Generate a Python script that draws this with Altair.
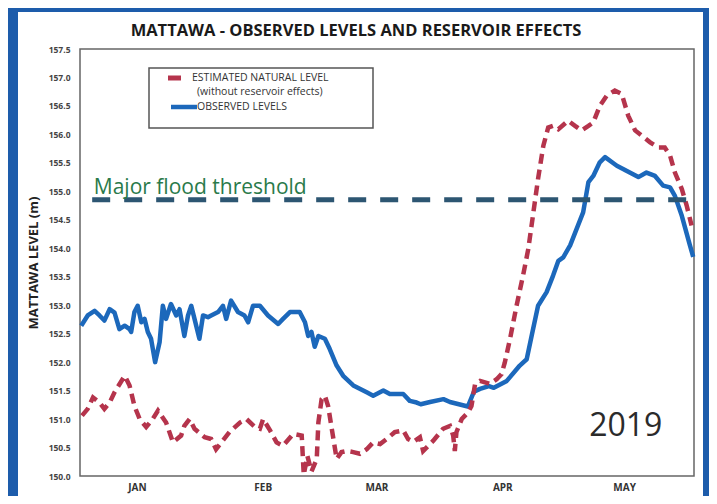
import altair as alt
import pandas as pd

# ---- data (x = days since 1 Jan 2019, y = level in m) ----
obs_day = [-13.7, -12.1, -10.4, -9.2, -8.0, -6.7, -5.5, -4.3, -3.0, -1.8, -1.4, -0.6, 0.2, 1.1, 1.9,
           2.7, 3.5, 4.5, 5.6, 6.4, 7.2, 8.4, 9.7, 10.5, 11.7, 12.6, 13.4, 14.2, 15.4, 16.3, 17.5,
           18.3, 20.0, 21.2, 22.0, 23.2, 24.9, 26.5, 27.4, 28.6, 30.3, 32.3, 34.8, 36.0, 37.7, 40.1,
           41.4, 42.2, 43.0, 43.8, 44.7, 46.3, 47.5, 49.2, 50.8, 53.3, 56.6, 58.2, 60.7, 62.3, 65.6,
           67.2, 68.9, 69.9, 72.2, 75.5, 77.1, 81.5, 83.0, 84.5, 86.7, 87.9, 91.1, 94.3, 96.0, 97.3,
           98.8, 100.9, 102.5, 103.8, 105.0, 106.7, 108.3, 109.9, 111.2, 112.4, 114.0, 115.3, 118.2,
           123.5, 125.5, 127.6, 129.6, 131.3, 132.5, 134.2, 136.2, 137.0]
obs_level = [152.64, 152.82, 152.90, 152.82, 152.73, 152.93, 152.87, 152.58, 152.64, 152.58, 152.53,
             152.88, 152.99, 152.70, 152.76, 152.53, 152.41, 152.00, 152.35, 152.99, 152.76, 153.02,
             152.82, 152.93, 152.46, 152.82, 152.99, 152.76, 152.41, 152.82, 152.79, 152.82, 152.88,
             152.99, 152.76, 153.08, 152.88, 152.82, 152.70, 152.99, 152.99, 152.82, 152.67, 152.76,
             152.88, 152.88, 152.70, 152.46, 152.53, 152.27, 152.46, 152.41, 152.23, 151.94, 151.76,
             151.59, 151.47, 151.41, 151.50, 151.44, 151.44, 151.32, 151.29, 151.26, 151.30, 151.35,
             151.30, 151.22, 151.48, 151.53, 151.58, 151.55, 151.67, 151.94, 152.05, 152.49, 152.99,
             153.23, 153.52, 153.78, 153.84, 154.05, 154.34, 154.63, 155.16, 155.27, 155.51, 155.60,
             155.45, 155.25, 155.33, 155.27, 155.10, 155.07, 154.92, 154.57, 154.05, 153.85]

nat_day = [-13.5, -12.1, -10.8, -9.2, -8.0, -6.7, -5.5, -3.0, -1.8, -0.6, 0.7, 2.3, 3.9, 5.2, 7.2,
           8.9, 10.9, 11.7, 13.0, 14.2, 16.7, 18.3, 19.5, 20.8, 22.8, 25.4, 27.0, 29.1, 30.3, 31.1,
           32.8, 34.4, 36.0, 38.5, 40.6, 41.1, 42.0, 43.0, 44.3, 44.7, 45.5, 46.3, 47.1, 48.0, 49.2,
           50.4, 51.7, 53.3, 54.9, 56.6, 58.2, 59.9, 61.5, 63.5, 65.6, 66.8, 68.1, 69.7, 70.5, 73.0,
           75.4, 77.1, 77.9, 78.3, 78.7, 80.0, 81.6, 82.4, 83.3, 84.5, 86.9, 88.6, 89.8, 90.6, 91.9,
           93.5, 95.1, 96.4, 97.2, 98.0, 98.8, 100.1, 101.3, 102.5, 103.8, 106.2, 107.9, 109.5, 111.2,
           112.4, 114.0, 115.7, 117.7, 119.4, 121.0, 122.7, 124.3, 126.4, 128.4, 130.0, 131.3, 132.5,
           134.2, 135.4, 136.6]
nat_level = [151.06, 151.18, 151.38, 151.29, 151.18, 151.29, 151.47, 151.76, 151.59, 151.23, 151.00,
             150.86, 151.00, 151.15, 150.94, 150.59, 150.71, 150.88, 151.00, 150.83, 150.68, 150.65,
             150.47, 150.59, 150.77, 150.94, 151.00, 150.86, 150.83, 151.00, 150.80, 150.59, 150.53,
             150.74, 150.71, 150.02, 150.35, 150.08, 150.30, 150.94, 151.35, 151.41, 151.23, 150.83,
             150.30, 150.42, 150.44, 150.42, 150.39, 150.47, 150.59, 150.56, 150.65, 150.77, 150.80,
             150.65, 150.60, 150.68, 150.44, 150.62, 150.83, 150.88, 150.71, 150.44, 150.77, 151.00,
             151.12, 151.23, 151.62, 151.67, 151.62, 151.70, 151.79, 151.99, 152.41, 152.99, 153.52,
             153.99, 154.40, 154.81, 155.22, 155.80, 156.12, 156.15, 156.09, 156.24, 156.15, 156.07,
             156.15, 156.21, 156.50, 156.68, 156.77, 156.71, 156.33, 156.07, 155.98, 155.86, 155.77,
             155.77, 155.63, 155.33, 155.04, 154.75, 154.40]

month_days = [0, 31, 59, 90, 120]
month_names = ["JAN", "FEB", "MAR", "APR", "MAY"]
y_ticks = [150.0, 150.5, 151.0, 151.5, 152.0, 152.5, 153.0, 153.5, 154.0, 154.5, 155.0,
           155.5, 156.0, 156.5, 157.0, 157.5]
x_domain = [-14.0, 137.2]
y_domain = [150.0, 157.5]

threshold_level = 154.85
threshold_span = [-11.0, 136.3]
threshold_text = "Major flood threshold"
threshold_text_pos = [-10.6, 154.96]
year_text = "2019"
year_text_pos = [120.4, 150.70]

title_text = "MATTAWA - OBSERVED LEVELS AND RESERVOIR EFFECTS"
y_title = "MATTAWA LEVEL (m)"
legend_natural = ["ESTIMATED NATURAL LEVEL", "(without reservoir effects)"]
legend_observed = "OBSERVED LEVELS"

# ---- styles ----
BLUE = "#1c68bb"
RED = "#b5344c"
THR = "#2d5672"
GREEN = "#2a7a4a"
FRAME = "#1d5cab"
FONT = "Open Sans"
W, H = 614, 427

obs_df = pd.DataFrame({"day": obs_day, "level": obs_level})
nat_df = pd.DataFrame({"day": nat_day, "level": nat_level})
thr_df = pd.DataFrame({"x": [threshold_span[0]], "x2": [threshold_span[1]], "y": [threshold_level]})
thr_txt_df = pd.DataFrame({"x": [threshold_text_pos[0]], "y": [threshold_text_pos[1]], "t": [threshold_text]})
year_df = pd.DataFrame({"x": [year_text_pos[0]], "y": [year_text_pos[1]], "t": [year_text]})

label_expr = " : ".join(
    f"datum.value == {d} ? '{n}'" for d, n in zip(month_days, month_names)
) + " : ''"

xs = alt.Scale(domain=x_domain, nice=False, zero=False)
ys = alt.Scale(domain=y_domain, nice=False, zero=False)

x_axis = alt.Axis(values=month_days, labelExpr=label_expr, ticks=False, domain=False, grid=False,
                  labelFont=FONT, labelFontSize=10, labelFontWeight="bold", labelColor="#333",
                  labelPadding=6, labelOverlap=False, title=None, zindex=1)
y_axis = alt.Axis(values=y_ticks, format=".1f", ticks=False, domain=False, grid=False,
                  labelFont=FONT, labelFontSize=8.5, labelFontWeight="bold", labelColor="#444",
                  labelPadding=10, labelOverlap=False, labelFlush=False,
                  title=y_title, titleFont=FONT, titleFontSize=13,
                  titleFontWeight="bold", titleColor="#222", titleAngle=270, titleX=-47,
                  titleY=H / 2, titleAlign="center", titleBaseline="middle", zindex=1)


def X(field):
    return alt.X(field, scale=xs, axis=x_axis)


def Y(field):
    return alt.Y(field, scale=ys, axis=y_axis)


observed = alt.Chart(obs_df).mark_line(color=BLUE, strokeWidth=4.5, strokeJoin="round").encode(
    x=X("day:Q"), y=Y("level:Q"),
)
natural = alt.Chart(nat_df).mark_line(color=RED, strokeWidth=4.5, strokeDash=[10, 6]).encode(
    x=X("day:Q"), y=Y("level:Q"),
)
threshold = alt.Chart(thr_df).mark_rule(color=THR, strokeWidth=5, strokeDash=[18, 14]).encode(
    x=X("x:Q"), x2="x2:Q", y=Y("y:Q")
)
thr_label = alt.Chart(thr_txt_df).mark_text(font=FONT, fontSize=21, color=GREEN, align="left",
                                            baseline="alphabetic").encode(
    x=X("x:Q"), y=Y("y:Q"), text="t:N"
)
year_label = alt.Chart(year_df).mark_text(font=FONT, fontSize=32, color="#2b2b2b", align="center",
                                          baseline="alphabetic").encode(
    x=X("x:Q"), y=Y("y:Q"), text="t:N"
)

one = alt.Data(values=[{}])


def box(x1, x2, y1, y2, **kw):
    return alt.Chart(one).mark_rect(**kw).encode(
        x=alt.value(x1), x2=alt.value(x2), y=alt.value(y1), y2=alt.value(y2))


def seg(x1, x2, y, **kw):
    return alt.Chart(one).mark_rule(**kw).encode(x=alt.value(x1), x2=alt.value(x2), y=alt.value(y))


def txt(x, y, s, align="left", baseline="middle", **kw):
    return alt.Chart(one).mark_text(font=FONT, align=align, baseline=baseline, **kw).encode(
        x=alt.value(x), y=alt.value(y), text=alt.value(s))


title_mark = txt(276, -13, title_text, align="center", baseline="alphabetic",
                 fontSize=16.5, fontWeight="bold", color="#1a1a1a")

legend = [
    box(69, 293, 19, 79, fill="white", stroke="#555", strokeWidth=1.5),
    seg(88, 101, 29, color=RED, strokeWidth=5),
    seg(91, 117, 58, color=BLUE, strokeWidth=4.5),
    txt(112, 29, legend_natural[0], fontSize=10.5, color="#333"),
    txt(117, 43, legend_natural[1], fontSize=10.5, color="#333"),
    txt(117, 58, legend_observed, fontSize=10.5, color="#333"),
]

photo_frame = [
    box(-72, -62, -41, H + 20, fill=FRAME, stroke=None),
    box(-72, W + 15, -41, -37, fill=FRAME, stroke=None),
    box(W + 9, W + 15, -41, H + 20, fill=FRAME, stroke=None),
]

chart = alt.layer(
    *photo_frame, observed, natural, threshold, thr_label, year_label, title_mark, *legend
).properties(
    width=W, height=H,
    autosize="none",
    padding={"left": 72, "top": 41, "right": 15, "bottom": 20},
).configure(background="white").configure_view(stroke="#666", strokeWidth=1.5)

chart.save("out.html", embed_options={"renderer": "svg", "actions": False})
